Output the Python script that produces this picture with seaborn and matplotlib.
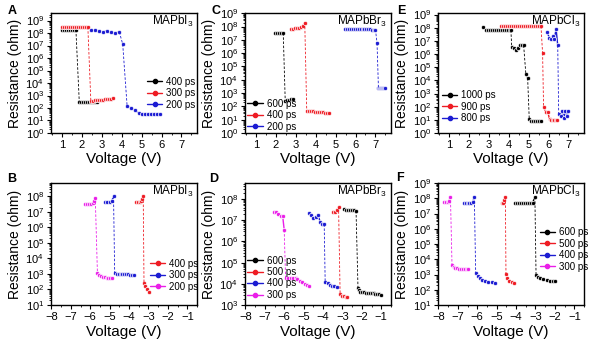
import numpy as np
import pandas as pd
import matplotlib
matplotlib.use("Agg")
import matplotlib.pyplot as plt
from matplotlib.lines import Line2D
from matplotlib.ticker import LogLocator, MultipleLocator, NullFormatter
import seaborn as sns

sns.set_theme(style="ticks")
plt.rcParams["font.family"] = ["Liberation Sans", "DejaVu Sans"]
plt.rcParams["mathtext.default"] = "regular"
plt.rcParams["text.color"] = "black"
plt.rcParams["axes.labelcolor"] = "black"
plt.rcParams["xtick.color"] = "black"
plt.rcParams["ytick.color"] = "black"

BLACK, RED, BLUE, MAGENTA = "#000000", "#ee1c24", "#1c1cd2", "#ea1ee8"

# ---------------- data: voltage (V) and resistance (ohm) ----------------
# Each series is one sweep; *_jumps lists the indices where the resistance
# switches abruptly (drawn as a dashed segment from the previous point).

# A: MAPbI3, positive sweep
a400_v = [1.0, 1.1, 1.2, 1.3, 1.4, 1.5, 1.6, 1.7, 1.87, 1.97, 2.07, 2.17, 2.27, 2.37, 2.47, 2.57, 2.67, 2.75]
a400_r = [1.8e8] * 8 + [2.8e2] * 10
a400_jumps = [8]
a300_v = [1.0, 1.1, 1.2, 1.3, 1.4, 1.5, 1.6, 1.7, 1.8, 1.9, 2.0, 2.1, 2.2, 2.3,
          2.45, 2.55, 2.65, 2.75, 2.85, 2.95, 3.05, 3.15, 3.25, 3.35, 3.45, 3.55]
a300_r = [3.0e8] * 14 + [3.5e2, 3.8e2, 4.0e2, 4.2e2, 4.4e2, 4.5e2, 4.7e2, 5.0e2, 5.2e2, 5.4e2, 5.7e2, 6.0e2]
a300_jumps = [14]
a200_v = [2.45, 2.65, 2.85, 3.05, 3.25, 3.45, 3.65, 3.88, 4.05,
          4.27, 4.47, 4.67, 4.87, 5.02, 5.17, 5.32, 5.47, 5.62, 5.77, 5.92]
a200_r = [1.6e8, 1.6e8, 1.5e8, 1.2e8, 1.5e8, 1.1e8, 1.0e8, 1.2e8, 1.3e7,
          1.5e2, 1.0e2, 6.5e1, 3.8e1, 3.3e1, 3.2e1, 3.2e1, 3.2e1, 3.2e1, 3.2e1, 3.2e1]
a200_jumps = [8, 9]

# B: MAPbI3, negative sweep
b400_v = [-3.65, -3.55, -3.45, -3.38, -3.33, -3.27, -3.23, -3.16, -3.08, -2.99]
b400_r = [4.0e7, 4.0e7, 4.0e7, 5.0e7, 7.0e7, 1.0e8, 2.5e2, 1.6e2, 1.1e2, 7.0e1]
b400_jumps = [6]
b300_v = [-5.24, -5.12, -5.0, -4.89, -4.8, -4.74, -4.64, -4.54, -4.44, -4.34, -4.24, -4.14, -4.04, -3.94, -3.84, -3.75]
b300_r = [4.5e7, 4.5e7, 4.5e7, 5.0e7, 1.0e8, 1.1e3, 1.0e3, 1.0e3, 1.0e3, 1.0e3, 9.5e2, 9.5e2, 9.5e2, 9.0e2, 9.0e2, 9.0e2]
b300_jumps = [5]
b200_v = [-6.27, -6.17, -6.07, -5.97, -5.87, -5.8, -5.74,
          -5.63, -5.55, -5.46, -5.36, -5.26, -5.16, -5.06, -4.96, -4.86]
b200_r = [3.0e7, 3.0e7, 3.0e7, 3.0e7, 3.5e7, 5.0e7, 8.0e7,
          1.2e3, 9.0e2, 7.5e2, 6.5e2, 6.0e2, 5.5e2, 5.5e2, 5.5e2, 5.5e2]
b200_jumps = [7]

# C: MAPbBr3, positive sweep
c600_v = [1.97, 2.07, 2.17, 2.27, 2.37, 2.47, 2.55, 2.65, 2.75, 2.85]
c600_r = [3.2e7] * 5 + [2.5e2, 3.0e2, 3.2e2, 3.3e2, 3.3e2]
c600_jumps = [5]
c400_v = [2.75, 2.85, 2.95, 3.05, 3.15, 3.25, 3.35, 3.45,
          3.55, 3.65, 3.75, 3.85, 3.95, 4.05, 4.15, 4.25, 4.35, 4.45, 4.55, 4.65]
c400_r = [7.0e7, 7.0e7, 7.5e7, 8.0e7, 8.0e7, 9.0e7, 1.2e8, 2.0e8,
          4.8e1, 4.6e1, 4.4e1, 4.3e1, 4.1e1, 4.0e1, 3.8e1, 3.6e1, 3.5e1, 3.3e1, 3.2e1, 3.0e1]
c400_jumps = [8]
c200_v = [5.45, 5.55, 5.65, 5.75, 5.85, 5.95, 6.05, 6.15, 6.25, 6.35, 6.45, 6.55, 6.65, 6.75, 6.85, 6.95, 7.0,
          7.08, 7.15, 7.2, 7.25, 7.3, 7.35, 7.4, 7.45, 7.5]
c200_r = [7.0e7, 7.0e7, 7.0e7, 7.0e7, 6.8e7, 6.8e7, 6.5e7, 6.5e7, 6.5e7, 6.5e7, 6.3e7, 6.3e7, 6.2e7, 6.2e7, 6.0e7, 6.0e7, 6.0e7,
          5.6e6, 2.4e3, 2.4e3, 2.4e3, 2.4e3, 2.4e3, 2.4e3, 2.4e3, 2.4e3]
c200_jumps = [17, 18]

# D: MAPbBr3, negative sweep
d600_v = [-2.9, -2.8, -2.7, -2.6, -2.5, -2.4, -2.3,
          -2.2, -2.15, -2.08, -2.0, -1.9, -1.8, -1.7, -1.6, -1.5, -1.4, -1.3, -1.2, -1.1, -1.0]
d600_r = [3.3e7, 3.2e7, 3.2e7, 3.2e7, 3.1e7, 3.0e7, 2.8e7,
          6.5e3, 5.0e3, 4.3e3, 4.0e3, 3.9e3, 3.8e3, 3.7e3, 3.6e3, 3.6e3, 3.5e3, 3.4e3, 3.3e3, 3.2e3, 3.1e3]
d600_jumps = [7]
d500_v = [-3.51, -3.39, -3.28, -3.2, -3.12, -3.02, -2.92, -2.82, -2.75]
d500_r = [2.6e7, 2.6e7, 3.2e7, 4.2e7, 3.2e3, 2.8e3, 2.6e3, 2.5e3, 2.5e3]
d500_jumps = [4]
d400_v = [-4.72, -4.6, -4.5, -4.37, -4.25, -4.15, -4.03, -3.94,
          -3.89, -3.77, -3.65, -3.53, -3.41, -3.3]
d400_r = [2.3e7, 1.8e7, 1.3e7, 1.5e7, 1.7e7, 8.5e6, 7.0e6, 6.5e6,
          1.2e4, 1.1e4, 9.0e3, 8.0e3, 7.5e3, 7.0e3]
d400_jumps = [8]
d300_v = [-6.52, -6.4, -6.3, -6.18, -6.08, -6.0,
          -5.93, -5.81, -5.67, -5.53, -5.41, -5.32, -5.18, -5.06, -4.95, -4.83, -4.72]
d300_r = [2.6e7, 2.5e7, 1.9e7, 1.6e7, 1.6e7, 3.5e6,
          1.9e4, 1.9e4, 1.9e4, 1.9e4, 1.8e4, 1.7e4, 1.4e4, 1.2e4, 1.0e4, 8.5e3, 7.5e3]
d300_jumps = [6]

# E: MAPbCl3, positive sweep
e1000_v = [2.73, 2.85, 2.95, 3.05, 3.15, 3.25, 3.35, 3.45, 3.55, 3.65, 3.75, 3.85, 3.95, 4.05, 4.11,
           4.15, 4.25, 4.35, 4.45, 4.55, 4.65, 4.75,
           4.86, 4.95,
           5.03, 5.1, 5.2, 5.3, 5.4, 5.5, 5.6]
e1000_r = [1.1e8] + [6.5e7] * 14 + [3.5e6, 3.0e6, 2.2e6, 3.0e6, 5.0e6, 4.8e6, 4.5e6,
           3.0e4, 1.5e4,
           1.2e1, 8.0, 7.5, 7.5, 7.5, 7.5, 7.5]
e1000_jumps = [15, 22, 24]
e900_v = [3.6, 3.7, 3.8, 3.9, 4.0, 4.1, 4.2, 4.3, 4.4, 4.5, 4.6, 4.7, 4.8, 4.9, 5.0, 5.1, 5.2, 5.3, 5.4, 5.5, 5.62,
          5.7,
          5.75, 5.86, 5.96, 6.05, 6.12, 6.2, 6.28, 6.36, 6.44]
e900_r = [1.3e8] * 21 + [1.2e6,
          1.0e2, 4.0e1, 4.0e1, 1.1e1, 1.0e1, 1.0e1, 1.0e1, 1.0e1, 1.0e1]
e900_jumps = [21, 22]
e800_v = [5.92, 6.04, 6.13, 6.21, 6.29, 6.38, 6.46,
          6.51, 6.6, 6.68, 6.76, 6.85, 6.93, 7.0]
e800_r = [4.6e7, 1.8e7, 1.3e7, 2.4e7, 1.5e7, 8.0e7, 4.6e6,
          2.8e1, 1.8e1, 4.5e1, 1.5e1, 4.8e1, 2.0e1, 4.5e1]
e800_jumps = [7]

# F: MAPbCl3, negative sweep
f600_v = [-4.05, -3.95, -3.85, -3.75, -3.65, -3.55, -3.45, -3.35, -3.25, -3.15, -3.03,
          -2.97, -2.88, -2.77, -2.6, -2.43, -2.26, -2.1, -2.0]
f600_r = [5.0e7] * 10 + [1.2e8,
          9.0e2, 6.5e2, 5.5e2, 4.8e2, 4.3e2, 4.0e2, 3.7e2, 3.6e2]
f600_jumps = [11]
f500_v = [-4.74, -4.65, -4.6, -4.55, -4.52, -4.45, -4.36, -4.23, -4.1]
f500_r = [5.0e7, 5.0e7, 8.0e7, 1.2e8, 1.1e3, 5.5e2, 3.8e2, 3.0e2, 2.7e2]
f500_jumps = [4]
f400_v = [-6.7, -6.6, -6.5, -6.4, -6.3, -6.22, -6.15,
          -6.08, -5.98, -5.86, -5.74, -5.6, -5.43, -5.26, -5.08]
f400_r = [5.0e7, 5.0e7, 5.0e7, 5.0e7, 5.0e7, 6.0e7, 1.3e8,
          1.3e3, 8.0e2, 5.5e2, 4.5e2, 3.8e2, 3.3e2, 3.0e2, 2.8e2]
f400_jumps = [7]
f300_v = [-7.7, -7.6, -7.52, -7.45, -7.38,
          -7.3, -7.22, -7.13, -7.03, -6.93, -6.83, -6.73, -6.63, -6.53, -6.46]
f300_r = [5.5e7, 5.5e7, 5.5e7, 7.0e7, 1.3e8,
          4.5e3, 3.0e3, 2.6e3, 2.5e3, 2.4e3, 2.4e3, 2.4e3, 2.3e3, 2.3e3, 2.3e3]
f300_jumps = [5]

panels = {
    "A": dict(title="MAPbI$_3$", series=[("400 ps", BLACK, a400_v, a400_r, a400_jumps),
                                          ("300 ps", RED, a300_v, a300_r, a300_jumps),
                                          ("200 ps", BLUE, a200_v, a200_r, a200_jumps)],
              xlim=(0.45, 7.78), ylim=(1, 10 ** 9.6), leg=dict(loc="upper left", bbox_to_anchor=(0.63, 0.5))),
    "C": dict(title="MAPbBr$_3$", series=[("600 ps", BLACK, c600_v, c600_r, c600_jumps),
                                           ("400 ps", RED, c400_v, c400_r, c400_jumps),
                                           ("200 ps", BLUE, c200_v, c200_r, c200_jumps)],
              xlim=(0.45, 7.78), ylim=(1, 10 ** 9.02), leg=dict(loc="lower left", bbox_to_anchor=(-0.01, -0.02))),
    "E": dict(title="MAPbCl$_3$", series=[("1000 ps", BLACK, e1000_v, e1000_r, e1000_jumps),
                                           ("900 ps", RED, e900_v, e900_r, e900_jumps),
                                           ("800 ps", BLUE, e800_v, e800_r, e800_jumps)],
              xlim=(0.45, 7.78), ylim=(1, 10 ** 9.12), leg=dict(loc="lower left", bbox_to_anchor=(0.0, 0.05))),
    "B": dict(title="MAPbI$_3$", series=[("400 ps", RED, b400_v, b400_r, b400_jumps),
                                          ("300 ps", BLUE, b300_v, b300_r, b300_jumps),
                                          ("200 ps", MAGENTA, b200_v, b200_r, b200_jumps)],
              xlim=(-8.02, -0.5), ylim=(10, 10 ** 8.85), leg=dict(loc="upper left", bbox_to_anchor=(0.65, 0.41))),
    "D": dict(title="MAPbBr$_3$", series=[("600 ps", BLACK, d600_v, d600_r, d600_jumps),
                                           ("500 ps", RED, d500_v, d500_r, d500_jumps),
                                           ("400 ps", BLUE, d400_v, d400_r, d400_jumps),
                                           ("300 ps", MAGENTA, d300_v, d300_r, d300_jumps)],
              xlim=(-8.02, -0.5), ylim=(1e3, 10 ** 8.76), leg=dict(loc="lower left", bbox_to_anchor=(-0.01, 0.01))),
    "F": dict(title="MAPbCl$_3$", series=[("600 ps", BLACK, f600_v, f600_r, f600_jumps),
                                           ("500 ps", RED, f500_v, f500_r, f500_jumps),
                                           ("400 ps", BLUE, f400_v, f400_r, f400_jumps),
                                           ("300 ps", MAGENTA, f300_v, f300_r, f300_jumps)],
              xlim=(-8.02, -0.5), ylim=(10, 1e9), leg=dict(loc="upper left", bbox_to_anchor=(0.67, 0.67))),
}

# axes placement (figure fractions)
col_left = {"A": 0.0846, "B": 0.0846, "C": 0.4063, "D": 0.4063, "E": 0.7264, "F": 0.7264}
row_bottom = {"A": 0.6145, "C": 0.6145, "E": 0.6145, "B": 0.1159, "D": 0.1159, "F": 0.1159}
row_height = {"A": 0.3478, "C": 0.3478, "E": 0.3478, "B": 0.3536, "D": 0.3536, "F": 0.3536}
letter_xy = {"A": (0.012, 0.968), "C": (0.350, 0.968), "E": (0.659, 0.968),
             "B": (0.012, 0.482), "D": (0.347, 0.482), "F": (0.657, 0.484)}

fig = plt.figure(figsize=(6.03, 3.45), dpi=100)

for key, p in panels.items():
    ax = fig.add_axes([col_left[key], row_bottom[key], 0.2421, row_height[key]])
    rows = []
    for label, color, v, r, jumps in p["series"]:
        cuts = [0] + list(jumps) + [len(v)]
        for s in range(len(cuts) - 1):
            for i in range(cuts[s], cuts[s + 1]):
                rows.append(dict(series=label, seg=s, v=v[i], r=r[i]))
    df = pd.DataFrame(rows)
    pal = {label: color for label, color, *_ in p["series"]}
    sns.lineplot(data=df, x="v", y="r", hue="series", units="seg", estimator=None, sort=False,
                 palette=pal, marker="o", markersize=3.0, markeredgewidth=0.5, linewidth=1.0,
                 legend=False, ax=ax)
    # dashed switching transitions
    for label, color, v, r, jumps in p["series"]:
        for k in jumps:
            ax.plot([v[k - 1], v[k]], [r[k - 1], r[k]], color=color, linestyle=(0, (3, 2)), linewidth=0.6)

    ax.set_yscale("log")
    ax.set_xlim(*p["xlim"])
    ax.set_ylim(*p["ylim"])
    ax.yaxis.set_major_locator(LogLocator(base=10, subs=(1.0,), numticks=30))
    ax.yaxis.set_minor_locator(LogLocator(base=10, subs=np.arange(2, 10), numticks=30))
    ax.yaxis.set_minor_formatter(NullFormatter())
    ax.xaxis.set_major_locator(MultipleLocator(1))
    ax.xaxis.set_minor_locator(MultipleLocator(0.5))
    ax.tick_params(which="major", direction="out", length=3, width=0.8, labelsize=8, pad=2)
    ax.tick_params(which="minor", direction="out", length=1.6, width=0.6)
    for sp in ax.spines.values():
        sp.set_linewidth(1.0)
        sp.set_color("black")

    ax.set_xlabel("Voltage (V)", fontsize=11)
    ax.set_ylabel("Resistance (ohm)", fontsize=10)
    ax.xaxis.set_label_coords(0.5, -0.16)
    ax.yaxis.set_label_coords(-0.2, 0.5)
    ax.text(0.975, 0.93, p["title"], transform=ax.transAxes, ha="right", va="center", fontsize=8.5)

    handles = [Line2D([0], [0], color=c, marker="o", markersize=3.0, linewidth=1.0) for _, c, *_ in p["series"]]
    labels = [lab for lab, *_ in p["series"]]
    ax.legend(handles, labels, frameon=False, fontsize=7, handlelength=1.6, handletextpad=0.4,
              labelspacing=0.15, borderpad=0.2, borderaxespad=0.2, numpoints=1, **p["leg"])

    lx, ly = letter_xy[key]
    fig.text(lx, ly, key, fontsize=9, fontweight="bold", ha="left", va="center")

fig.savefig("out.png", dpi=100)
